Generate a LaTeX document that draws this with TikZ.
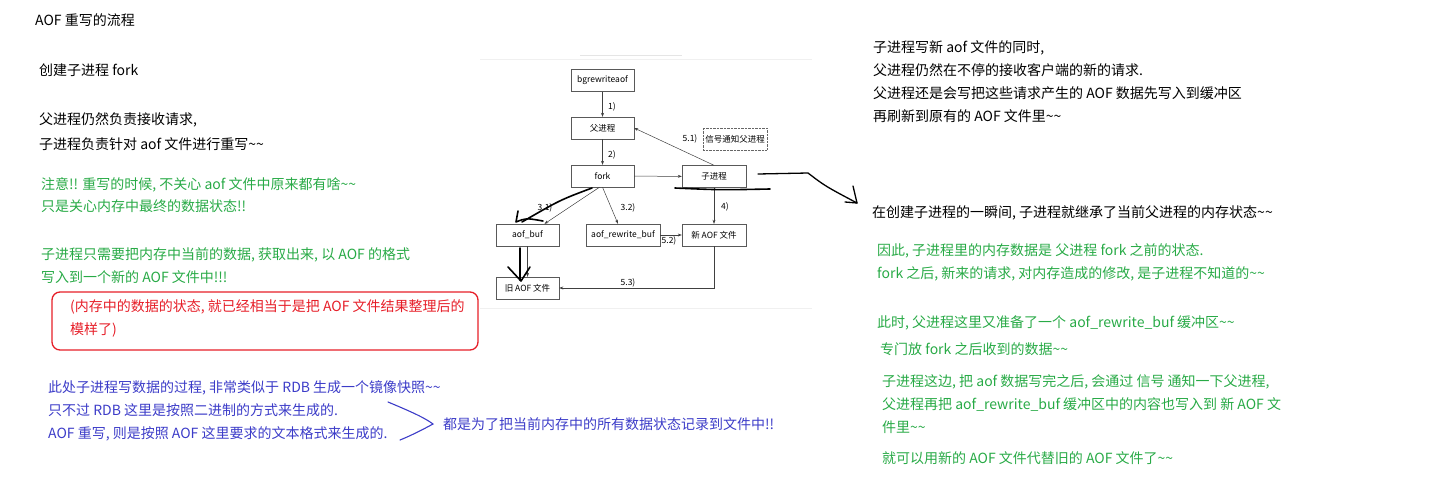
\documentclass[tikz,border=0pt]{standalone}
\usepackage{fontspec}
\newfontfamily\cjk{Noto Sans CJK SC}
\usetikzlibrary{arrows.meta}
\definecolor{notegreen}{RGB}{40,170,70}
\definecolor{notered}{RGB}{230,30,40}
\definecolor{noteblue}{RGB}{60,60,200}
\newcommand\twotilde{\textasciitilde\textasciitilde}

\begin{document}
\begin{tikzpicture}[x=1pt, y=-1pt, font=\cjk,
  >={Stealth[length=4pt,width=3pt]},
  txt/.style={anchor=north west, inner sep=0pt, align=left, font=\cjk\fontsize{14}{23}\selectfont},
  box/.style={draw=black!65, minimum width=63pt, minimum height=22pt, inner sep=0pt, font=\cjk\fontsize{8.5}{9}\selectfont},
  num/.style={inner sep=0pt, font=\cjk\fontsize{8.5}{9}\selectfont},
  flow/.style={->, draw=black!75, line width=0.5pt},
  pen/.style={line width=1.6pt, line cap=round, line join=round}]
\useasboundingbox (0,0) rectangle (1447,498);

\node[txt] at (35,13.5) (title) {AOF 重写的流程};
\node[txt] at (39,64) (forknote) {创建子进程 fork};
\node[txt, font=\cjk\fontsize{14}{25}\selectfont] at (39,112) (split) {父进程仍然负责接收请求,\\子进程负责针对 aof 文件进行重写\twotilde};
\node[txt, text=notegreen, font=\cjk\fontsize{14}{22}\selectfont] at (41,177) (careless) {注意!! 重写的时候, 不关心 aof 文件中原来都有啥\twotilde\\只是关心内存中最终的数据状态!!};
\node[txt, text=notegreen] at (41,247) (memfmt) {子进程只需要把内存中当前的数据, 获取出来, 以 AOF 的格式\\写入到一个新的 AOF 文件中!!!};
\node[txt, text=notered] at (70,299.5) (tidy) {(内存中的数据的状态, 就已经相当于是把 AOF 文件结果整理后的\\模样了)};
\draw[notered, line width=1.3pt, rounded corners=8pt] (52,292) rectangle (478,350);
\node[txt, text=noteblue] at (48,380) (rdbnote) {此处子进程写数据的过程, 非常类似于 RDB 生成一个镜像快照\twotilde\\只不过 RDB 这里是按照二进制的方式来生成的.\\AOF 重写, 则是按照 AOF 这里要求的文本格式来生成的.};
\node[txt, anchor=west, text=noteblue] at (443,424) (allsame) {都是为了把当前内存中的所有数据状态记录到文件中!!};
\draw[noteblue, line width=1.1pt, line cap=round] (388,402) .. controls (412,412) and (425,418) .. (433,424) .. controls (422,430) and (410,436) .. (400,440);

\draw[black!6, line width=1pt] (480,59) -- (812,59);
\draw[black!10, line width=1pt] (580,55) -- (682,55);
\draw[black!6, line width=1pt] (480,308) -- (812,308);

\node[box] at (602.5,80.5) (bgr) {bgrewriteaof};
\node[box] at (602.5,128) (parent) {父进程};
\node[box] at (602.5,176) (fork) {fork};
\node[box, minimum width=64pt] at (714,176.5) (child) {子进程};
\node[box, draw=black!60, densely dotted, minimum width=64pt] at (735,139) (signal) {信号通知父进程};
\node[box] at (527.5,235) (aofbuf) {aof\_buf};
\node[box, minimum width=74pt] at (623,235) (rewbuf) {aof\_rewrite\_buf};
\node[box, minimum width=64pt] at (714,235) (newaof) {新 AOF 文件};
\node[box] at (527.5,288) (oldaof) {旧 AOF 文件};

\draw[flow] (bgr) -- (parent);
\draw[flow] (parent) -- (fork);
\draw[flow] (fork) -- (child);
\draw[flow] (child.north) -- (parent.east);
\draw[flow] ([xshift=-3pt]fork.south) -- ([xshift=17pt]aofbuf.north);
\draw[flow] (fork.south) -- ([xshift=-5pt]rewbuf.north);
\draw[flow] (child) -- (newaof);
\draw[flow] (rewbuf) -- (newaof);
\draw[flow] (aofbuf) -- (oldaof);
\draw[flow] (newaof.south) |- (oldaof.east);

\node[num] at (612,107) (n1) {1)};
\node[num] at (612,155) (n2) {2)};
\node[num] at (690,139) (n51) {5.1)};
\node[num] at (545,208) (n31) {3.1)};
\node[num] at (628,208) (n32) {3.2)};
\node[num] at (725,207) (n4) {4)};
\node[num] at (669,241) (n52) {5.2)};
\node[num] at (628,283) (n53) {5.3)};

\draw[pen] (592,188) .. controls (560,200) .. (522,222);
\draw[pen] (518,211) -- (516,222) .. controls (526,218) .. (543,221);
\draw[pen] (520,248) -- (520,280);
\draw[pen] (508,267) -- (521,281) -- (530,267);
\draw[pen] (675,188) .. controls (720,190) .. (770,189);
\draw[pen, line width=1.3pt] (758,174) -- (808,173) .. controls (825,186) .. (857,203);
\draw[pen, line width=1.3pt] (845,202) -- (857,203) -- (853,186);

\node[txt] at (873,40.5) (childwrite) {子进程写新 aof 文件的同时,\\父进程仍然在不停的接收客户端的新的请求.\\父进程还是会写把这些请求产生的 AOF 数据先写入到缓冲区\\再刷新到原有的 AOF 文件里\twotilde};
\node[txt] at (872,205.5) (inherit) {在创建子进程的一瞬间, 子进程就继承了当前父进程的内存状态\twotilde};
\node[txt, text=notegreen] at (877,243.5) (before) {因此, 子进程里的内存数据是 父进程 fork 之前的状态.\\fork 之后, 新来的请求, 对内存造成的修改, 是子进程不知道的\twotilde};
\node[txt, text=notegreen] at (877,315.5) (prepare) {此时, 父进程这里又准备了一个 aof\_rewrite\_buf 缓冲区\twotilde};
\node[txt, text=notegreen] at (880,342.5) (after) {专门放 fork 之后收到的数据\twotilde};
\node[txt, text=notegreen] at (882,374) (notify) {子进程这边, 把 aof 数据写完之后, 会通过 信号 通知一下父进程,\\父进程再把 aof\_rewrite\_buf 缓冲区中的内容也写入到 新 AOF 文\\件里\twotilde};
\node[txt, text=notegreen] at (882,451.5) (replace) {就可以用新的 AOF 文件代替旧的 AOF 文件了\twotilde};
\end{tikzpicture}
\end{document}
